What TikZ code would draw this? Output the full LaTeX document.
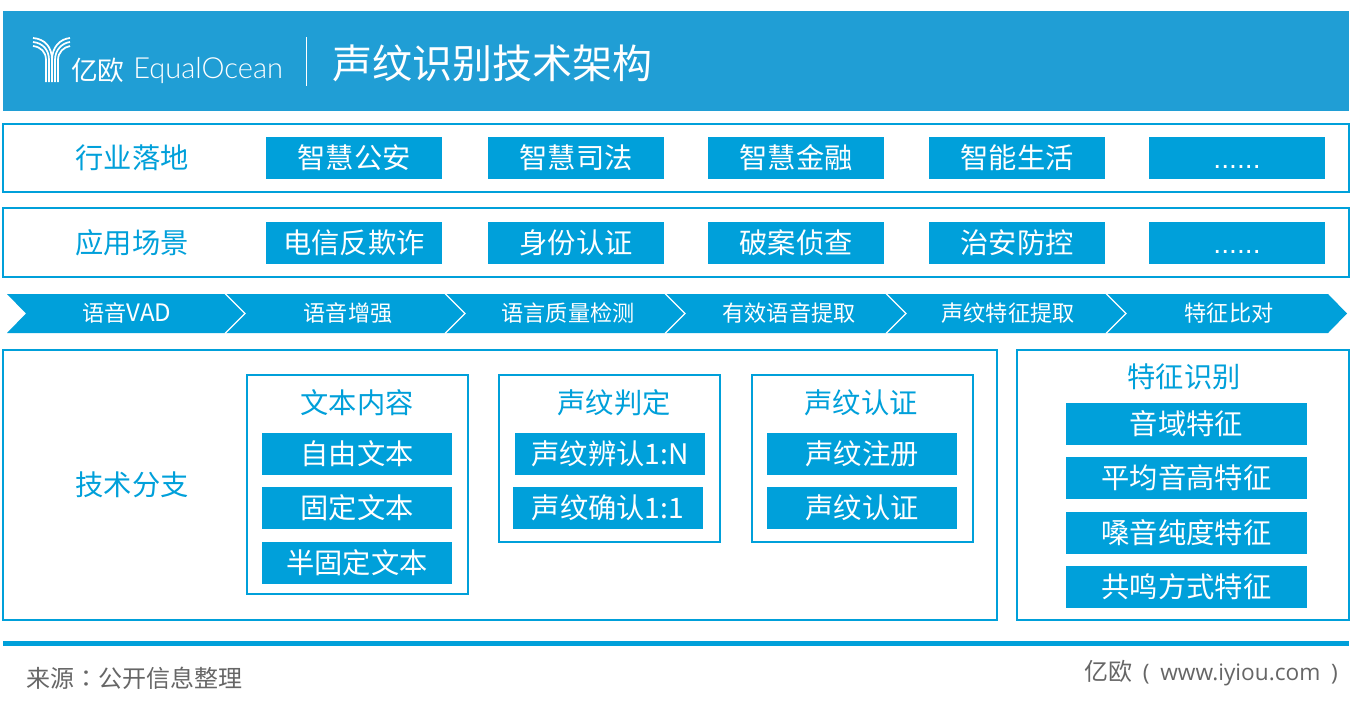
\documentclass[tikz,border=0pt]{standalone}
\usepackage{fontspec}
\setmainfont{Noto Sans CJK SC}
\newfontfamily\latinlight{Lato Light}
\newfontfamily\latinsans{Open Sans}
\newfontfamily\dotfont{Liberation Sans}
\newfontfamily\tcfont{Noto Sans CJK TC}
\definecolor{hdr}{HTML}{209ED5}
\definecolor{blu}{HTML}{00A0DA}
\definecolor{foot}{HTML}{666666}
\newcommand{\pxbox}[6][]{\node[#2,minimum width=#5 *0.75pt - #3 *0.75pt,minimum height=42*0.75pt] (#6) at ({(#3+#5)/2},#4) {#1};}
\newcommand{\lowdots}{\smash{\raisebox{-7.5pt}{\dotfont ......}}}
\tikzset{
  x=0.75pt,y=-0.75pt,
  outer/.style={draw=blu,line width=1.5pt,fill=white},
  solid box/.style={fill=blu,text=white,inner sep=0pt,font=\fontsize{21.2pt}{21.2pt}\selectfont,anchor=center},
  side label/.style={text=blu,inner sep=0pt,font=\fontsize{21.2pt}{21.2pt}\selectfont},
  step label/.style={text=white,inner sep=0pt,font=\fontsize{16.6pt}{16.6pt}\selectfont},
  arrow seg/.style={fill=blu},
  logo line/.style={draw=white,line width=1.3pt},
}
\begin{document}
\begin{tikzpicture}
\useasboundingbox (0,0) rectangle (1362,722);
\fill[white] (0,0) rectangle (1362,722);
% header
\fill[hdr] (3,11) rectangle (1349,111);
% logo mark
\draw[logo line] (33,38) .. controls (45,39) and (52,47) .. (52,60) -- (52,82);
\draw[logo line] (33,42) .. controls (43,43) and (49,50) .. (49,60) -- (49,82);
\draw[logo line] (33,46) .. controls (41,47) and (46,52) .. (46,60) -- (46,82);
\draw[logo line] (70,38) .. controls (60,39) and (52,47) .. (52,60);
\draw[logo line] (70,42) .. controls (62,43) and (55,50) .. (55,60) -- (55,82);
\draw[logo line] (70,46) .. controls (64,47) and (58,52) .. (58,60) -- (58,82);
\node[text=white,inner sep=0pt,anchor=west,font=\fontsize{20pt}{20pt}\selectfont] (logocn) at (71,70) {亿欧};
\node[text=white,inner sep=0pt,anchor=west,font=\latinlight\fontsize{21.8pt}{21.8pt}\selectfont] (logoen) at (133,70) {EqualOcean};
\draw[white,line width=0.9pt] (306.5,37) -- (306.5,86);
\node[text=white,inner sep=0pt,anchor=west,font=\fontsize{30pt}{30pt}\selectfont] (title) at (332,63) {声纹识别技术架构};
% row 1
\draw[outer] (3,124) rectangle (1349,192);
\node[side label] (r1) at (132,158) {行业落地};
\pxbox[智慧公安]{solid box}{266}{158}{442}{a1}
\pxbox[智慧司法]{solid box}{488}{158}{664}{a2}
\pxbox[智慧金融]{solid box}{708}{158}{884}{a3}
\pxbox[智能生活]{solid box}{929}{158}{1105}{a4}
\pxbox[\lowdots]{solid box}{1149}{158}{1325}{a5}
% row 2
\draw[outer] (3,208) rectangle (1349,277);
\node[side label] (r2) at (132,243) {应用场景};
\pxbox[电信反欺诈]{solid box}{266}{243}{442}{b1}
\pxbox[身份认证]{solid box}{488}{243}{664}{b2}
\pxbox[破案侦查]{solid box}{708}{243}{884}{b3}
\pxbox[治安防控]{solid box}{929}{243}{1105}{b4}
\pxbox[\lowdots]{solid box}{1149}{243}{1325}{b5}
% process band
\fill[arrow seg] (7,294) -- (1328,294) -- (1347,313.5) -- (1328,333) -- (7,333) -- (26,313.5) -- cycle;
\foreach \x in {225,445,665,886,1106}{
  \draw[white,line width=1pt] (\x,293.5) -- (\x+20,313.5) -- (\x,333.5);
}
\node[step label] (c1) at (127,313) {语音{\fontsize{18pt}{18pt}\selectfont VAD}};
\node[step label] (c2) at (348,313) {语音增强};
\node[step label] (c3) at (568,313) {语言质量检测};
\node[step label] (c4) at (789,313) {有效语音提取};
\node[step label] (c5) at (1008,313) {声纹特征提取};
\node[step label] (c6) at (1229,313) {特征比对};
% tech
\draw[outer] (3,350) rectangle (997,620);
\node[side label] (r3) at (132,485) {技术分支};
\draw[outer] (247,375) rectangle (468,594);
\draw[outer] (499,375) rectangle (720,542);
\draw[outer] (752,375) rectangle (973,542);
\node[side label] (t1) at (357,403) {文本内容};
\node[side label] (t2) at (614,403) {声纹判定};
\node[side label] (t3) at (861,403) {声纹认证};
\pxbox[自由文本]{solid box}{262}{454}{452}{d1}
\pxbox[固定文本]{solid box}{262}{508}{452}{d2}
\pxbox[半固定文本]{solid box}{262}{563}{452}{d3}
\pxbox[声纹辨认1:N]{solid box}{515}{454}{705}{e1}
\pxbox[声纹确认1:1]{solid box}{513}{508}{703}{e2}
\pxbox[声纹注册]{solid box}{767}{454}{957}{f1}
\pxbox[声纹认证]{solid box}{767}{508}{957}{f2}
% right
\draw[outer] (1017,350) rectangle (1349,620);
\node[side label] (t4) at (1184,377) {特征识别};
\pxbox[音域特征]{solid box}{1066}{424}{1307}{g1}
\pxbox[平均音高特征]{solid box}{1066}{478}{1307}{g2}
\pxbox[嗓音纯度特征]{solid box}{1066}{533}{1307}{g3}
\pxbox[共鸣方式特征]{solid box}{1066}{587}{1307}{g4}
% footer
\fill[blu] (3,641) rectangle (1349,646);
\node[text=foot,inner sep=0pt,anchor=west,font=\fontsize{18pt}{18pt}\selectfont] (src) at (26,678) {来源{\tcfont ：}公开信息整理};
\node[text=foot,inner sep=0pt,anchor=east,font=\fontsize{18pt}{18pt}\selectfont] (cr) at (1338,673) {亿欧{\latinsans\fontsize{17pt}{17pt}\selectfont\hspace{8pt}(\hspace{8pt}www.iyiou.com\hspace{8pt})}};
\end{tikzpicture}
\end{document}
